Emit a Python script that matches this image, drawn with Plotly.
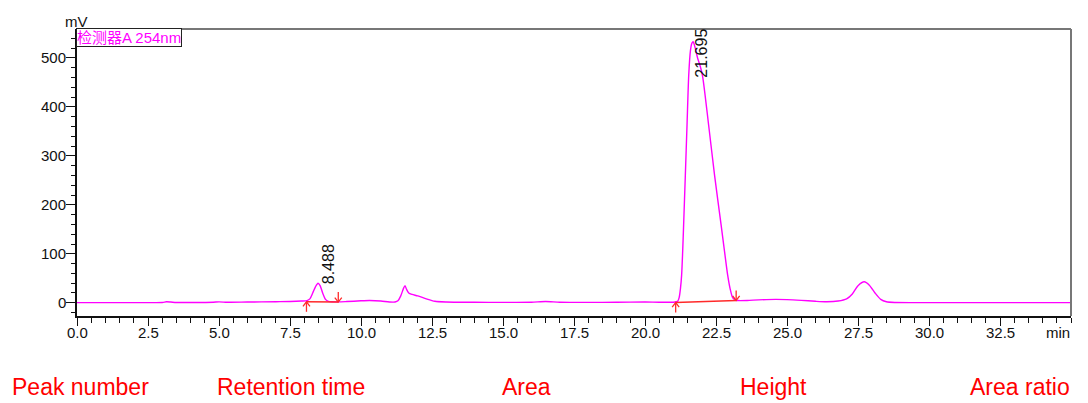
import plotly.graph_objects as go

# Chromatogram trace (retention time in min, signal in mV)
time_min = [0.0, 1.0, 2.0, 3.0, 3.15, 3.3, 3.5, 4.0, 4.8, 5.0, 5.3, 6.0, 7.0, 7.5, 7.9,
            8.1, 8.2, 8.3, 8.4, 8.488, 8.56, 8.65, 8.75, 8.85, 9.0, 9.2, 9.5, 10.0, 10.3,
            10.7, 11.0, 11.2, 11.3, 11.4, 11.5, 11.55, 11.6, 11.68, 11.8, 12.0, 12.3, 12.6,
            13.0, 14.0, 15.0, 16.0, 16.5, 17.0, 18.0, 19.0, 20.0, 20.5, 21.0, 21.1, 21.15,
            21.2, 21.25, 21.29, 21.33, 21.36, 21.42, 21.48, 21.54, 21.6, 21.65, 21.695,
            21.76, 21.85, 21.95, 22.03, 22.24, 22.45, 22.68, 22.8, 22.91, 23.0, 23.09, 23.2,
            23.3, 23.6, 24.0, 24.6, 25.0, 25.5, 26.0, 26.4, 26.8, 27.1, 27.3, 27.5, 27.72,
            27.9, 28.1, 28.3, 28.5, 28.8, 30.0, 35.0]
signal_mv = [0.3, 0.3, 0.4, 0.5, 2.0, 1.5, 0.5, 0.6, 1.2, 1.8, 1.0, 1.5, 2.2, 2.5, 3.5,
             4.5, 8.0, 20.0, 33.0, 40.0, 35.0, 20.0, 7.0, 3.0, 2.0, 1.8, 2.5, 4.0, 4.5,
             3.5, 1.5, 1.5, 4.0, 14.0, 30.0, 35.0, 28.0, 20.0, 17.0, 14.0, 8.0, 3.0,
             1.5, 1.0, 0.8, 1.2, 2.5, 1.2, 0.8, 1.0, 1.5, 1.0, 1.2, 2.0, 3.0,
             10.0, 30.0, 57.0, 110.0, 159.0, 260.0, 363.0, 465.0, 515.0, 530.0, 533.0,
             522.0, 500.0, 482.0, 462.0, 363.0, 260.0, 159.0, 105.0, 57.0, 28.0, 10.0, 5.0,
             4.5, 4.8, 6.0, 7.0, 6.5, 5.0, 3.0, 2.0, 3.5, 8.0, 18.0, 35.0, 43.0,
             36.0, 20.0, 7.0, 2.0, 0.5, 0.3, 0.3]

# Integrated peaks
peak_rt = [8.488, 21.695]
peak_height = [40.0, 533.0]
peak_labels = ["8.488", "21.695"]
integ_start_t = [8.08, 21.08]
integ_start_mv = [2.0, 0.5]
integ_end_t = [9.20, 23.21]
integ_end_mv = [1.5, 4.7]

# Axis ticks
x_tick_vals = [0, 2.5, 5, 7.5, 10, 12.5, 15, 17.5, 20, 22.5, 25, 27.5, 30, 32.5]
x_tick_text = ["0.0", "2.5", "5.0", "7.5", "10.0", "12.5", "15.0", "17.5", "20.0",
               "22.5", "25.0", "27.5", "30.0", "32.5"]
y_tick_vals = [0, 100, 200, 300, 400, 500]
y_tick_text = ["0", "100", "200", "300", "400", "500"]

# Report table headers
table_headers = ["Peak number", "Retention time", "Area", "Height", "Area ratio"]
header_left_px = [10, 215, 500, 738, 968]

x_range = [0, 35]
y_range = [-27, 559]

W, H = 1088, 403
M_L, M_R, M_T, M_B = 77, 17, 29, 87
plot_w = W - M_L - M_R
plot_h = H - M_T - M_B
mv_per_px = (y_range[1] - y_range[0]) / plot_h
min_per_px = (x_range[1] - x_range[0]) / plot_w

FONT = "Arial, Liberation Sans, sans-serif"
TXT = "#111"
MAGENTA = "#ff00ff"
RED = "#ff2a2a"
TICK_FONT = dict(family=FONT, size=15, color=TXT)

fig = go.Figure()
fig.add_trace(go.Scatter(
    x=time_min, y=signal_mv, mode="lines",
    line=dict(color=MAGENTA, width=1.4, shape="spline", smoothing=0.7),
    hoverinfo="skip", showlegend=False))

# integration baselines and start/end arrows
for t0, y0, t1, y1 in zip(integ_start_t, integ_start_mv, integ_end_t, integ_end_mv):
    fig.add_trace(go.Scatter(x=[t0, t1], y=[y0, y1], mode="lines",
                             line=dict(color=RED, width=1.5), showlegend=False,
                             hoverinfo="skip"))
    L = 10 * mv_per_px
    hw = 3.5 * min_per_px
    hh = 4.5 * mv_per_px
    # up arrow below the start point
    fig.add_trace(go.Scatter(
        x=[t0, t0, None, t0 - hw, t0, t0 + hw],
        y=[y0 - L, y0, None, y0 - hh, y0, y0 - hh],
        mode="lines", line=dict(color=RED, width=1.3), showlegend=False,
        hoverinfo="skip"))
    # down arrow above the end point
    fig.add_trace(go.Scatter(
        x=[t1, t1, None, t1 - hw, t1, t1 + hw],
        y=[y1 + L, y1, None, y1 + hh, y1, y1 + hh],
        mode="lines", line=dict(color=RED, width=1.3), showlegend=False,
        hoverinfo="skip"))

annotations = []
# retention time labels, rotated
for rt, h, lab in zip(peak_rt, peak_height, peak_labels):
    text_len_mv = 42 * mv_per_px
    if h + text_len_mv > y_range[1]:
        annotations.append(dict(x=rt, y=1, xref="x", yref="paper", text=lab,
                                textangle=-90, showarrow=False, xanchor="center",
                                yanchor="top", xshift=8, yshift=2,
                                font=dict(family=FONT, size=16, color=TXT)))
    else:
        annotations.append(dict(x=rt, y=h, xref="x", yref="y", text=lab,
                                textangle=-90, showarrow=False, xanchor="center",
                                yanchor="bottom", xshift=10, yshift=-3,
                                font=dict(family=FONT, size=16, color=TXT)))

# tick labels written as annotations so their size is fixed
for v, s in zip(x_tick_vals, x_tick_text):
    annotations.append(dict(x=v, y=0, xref="x", yref="paper", text=s,
                            showarrow=False, xanchor="center", yanchor="top",
                            yshift=-6, font=TICK_FONT))
for v, s in zip(y_tick_vals, y_tick_text):
    annotations.append(dict(x=0, y=v, xref="paper", yref="y", text=s,
                            showarrow=False, xanchor="right", yanchor="middle",
                            xshift=-9, font=TICK_FONT))

# detector box
annotations.append(dict(x=0, y=1, xref="paper", yref="paper", text="检测器A 254nm",
                        showarrow=False, xanchor="left", yanchor="top",
                        bordercolor="#222", borderwidth=1, borderpad=0,
                        bgcolor="white", yshift=1, xshift=-1,
                        font=dict(family="Arial, Noto Sans CJK SC, sans-serif",
                                  size=15, color=MAGENTA)))
# axis unit labels
annotations.append(dict(x=0, y=1, xref="paper", yref="paper", text="mV",
                        showarrow=False, xanchor="right", yanchor="bottom",
                        xshift=13, yshift=-3,
                        font=dict(family=FONT, size=15, color=TXT)))
annotations.append(dict(x=1, y=0, xref="paper", yref="paper", text="min",
                        showarrow=False, xanchor="right", yanchor="top",
                        yshift=-6, xshift=1,
                        font=dict(family=FONT, size=15, color=TXT)))
# report table headers
for lab, px in zip(table_headers, header_left_px):
    annotations.append(dict(x=(px - M_L) / plot_w, y=-(H - (M_T + plot_h)) / plot_h,
                            xref="paper", yref="paper", text=lab, showarrow=False,
                            xanchor="left", yanchor="bottom", yshift=1,
                            font=dict(family=FONT, size=23, color="#ff0000")))

shapes = [
    dict(type="line", xref="paper", yref="paper", x0=0, x1=1, y0=1, y1=1,
         line=dict(color="#777", width=2)),
    dict(type="line", xref="paper", yref="paper", x0=1, x1=1, y0=0, y1=1,
         line=dict(color="#777", width=2)),
]

fig.update_layout(
    width=W, height=H, autosize=False,
    margin=dict(l=M_L, r=M_R, t=M_T, b=M_B),
    paper_bgcolor="white", plot_bgcolor="white",
    font=dict(family=FONT, size=14, color=TXT),
    annotations=annotations, shapes=shapes,
    xaxis=dict(range=x_range, showgrid=False, zeroline=False, showline=True,
               linecolor=TXT, linewidth=1.5, ticks="outside", ticklen=8,
               tickwidth=1.3, tickcolor=TXT, tickvals=x_tick_vals,
               showticklabels=False,
               minor=dict(dtick=0.5, tick0=0, ticks="outside", ticklen=5,
                          tickwidth=1.2, tickcolor=TXT, showgrid=False)),
    yaxis=dict(range=y_range, showgrid=False, zeroline=False, showline=True,
               linecolor=TXT, linewidth=1.5, ticks="outside", ticklen=9,
               tickwidth=1.3, tickcolor=TXT, tickvals=y_tick_vals,
               showticklabels=False,
               minor=dict(dtick=20, tick0=0, ticks="outside", ticklen=4,
                          tickwidth=1.2, tickcolor=TXT, showgrid=False)),
)

fig.write_html("out.html")
